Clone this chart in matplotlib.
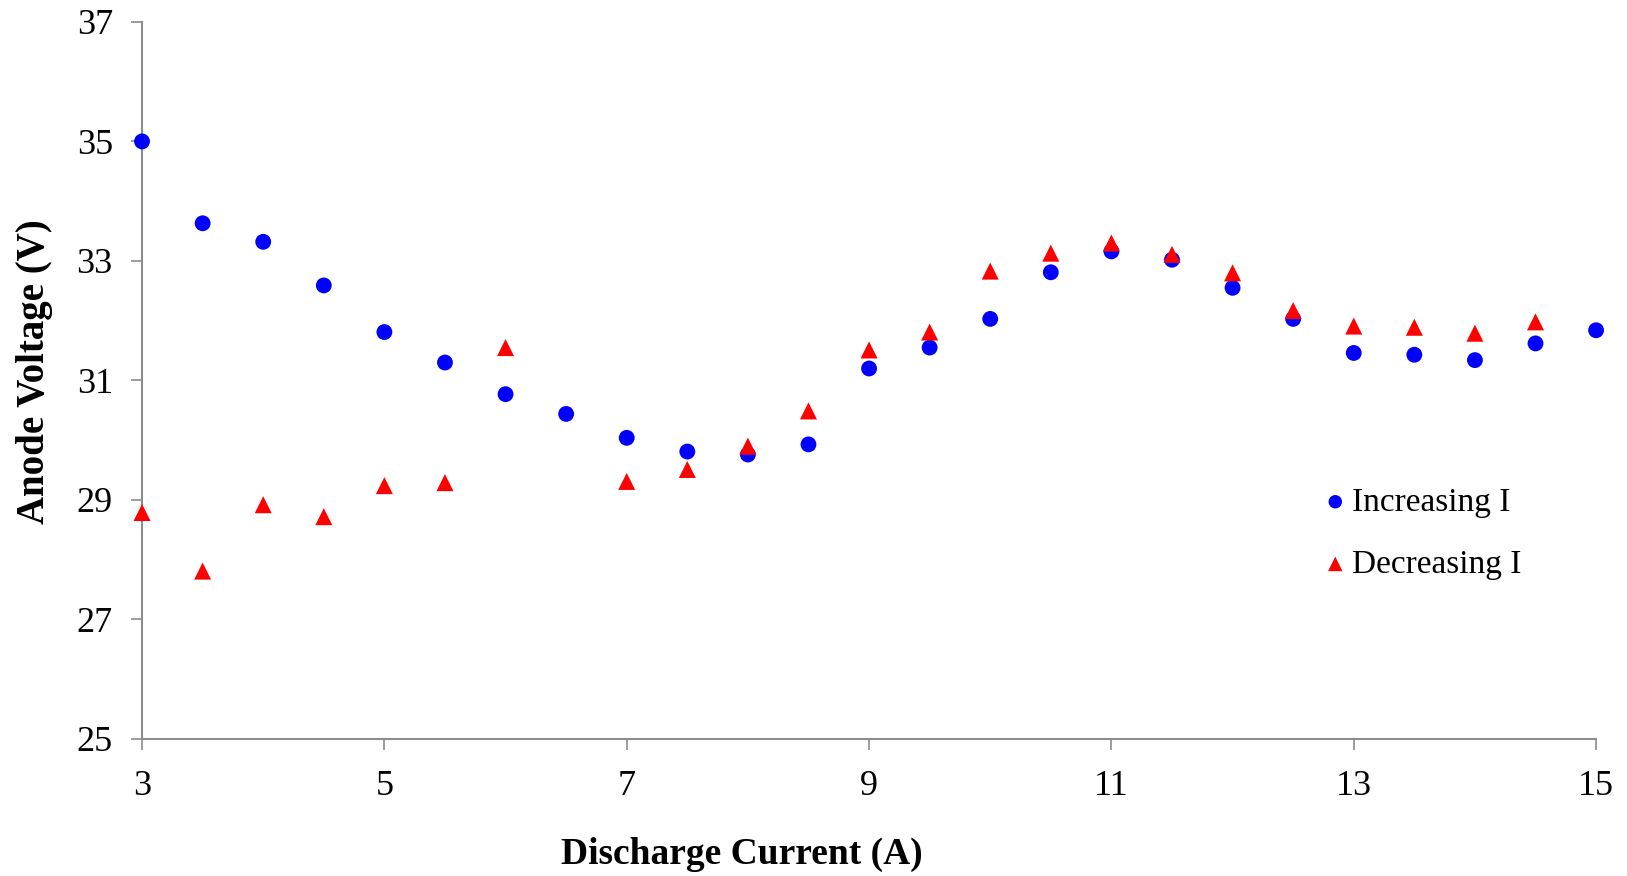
import numpy as np
import matplotlib.pyplot as plt

plt.rcParams['font.family'] = ['Liberation Serif', 'DejaVu Serif']

# increasing discharge current
inc_current = [3, 3.5, 4, 4.5, 5, 5.5, 6, 6.5, 7, 7.5, 8, 8.5, 9, 9.5, 10,
               10.5, 11, 11.5, 12, 12.5, 13, 13.5, 14, 14.5, 15]
inc_voltage = [35.0, 33.63, 33.32, 32.59, 31.81, 31.30, 30.77, 30.44, 30.04,
               29.81, 29.76, 29.93, 31.20, 31.55, 32.03, 32.81, 33.16, 33.02,
               32.55, 32.03, 31.46, 31.43, 31.34, 31.62, 31.84]

# decreasing discharge current
dec_current = [3, 3.5, 4, 4.5, 5, 5.5, 6, 7, 7.5, 8, 8.5, 9, 9.5, 10,
               10.5, 11, 11.5, 12, 12.5, 13, 13.5, 14, 14.5]
dec_voltage = [28.79, 27.81, 28.92, 28.72, 29.24, 29.29, 31.55, 29.31, 29.51,
               29.90, 30.49, 31.51, 31.81, 32.83, 33.13, 33.30, 33.11, 32.80,
               32.17, 31.91, 31.89, 31.79, 31.98]

x_ticks = [3, 5, 7, 9, 11, 13, 15]
y_ticks = [25, 27, 29, 31, 33, 35, 37]

fig = plt.figure(figsize=(16.27, 8.76), dpi=100)
ax = fig.add_axes([0.0873, 0.1564, 0.8937, 0.8186])

ax.scatter(inc_current, inc_voltage, s=130, marker='o', color='#0000ff',
           edgecolors='none', label='Increasing I', zorder=3, clip_on=False)
ax.scatter(dec_current, dec_voltage, s=150, marker='^', color='#ff0000',
           edgecolors='none', label='Decreasing I', zorder=4, clip_on=False)

ax.set_xlim(3, 15)
ax.set_ylim(25, 37)
ax.set_xticks(x_ticks)
ax.set_yticks(y_ticks)

for side in ['top', 'right']:
    ax.spines[side].set_visible(False)
for side in ['left', 'bottom']:
    ax.spines[side].set_color('#8c8c8c')
    ax.spines[side].set_linewidth(1.5)
ax.tick_params(axis='both', colors='#8c8c8c', length=8, width=1.2,
               labelsize=26, labelcolor='black')
ax.tick_params(axis='x', pad=14)
ax.tick_params(axis='y', pad=13)

ax.set_xlabel('Discharge Current (A)', fontsize=27, fontweight='bold')
ax.set_ylabel('Anode Voltage (V)', fontsize=28, fontweight='bold')
ax.xaxis.set_label_coords(0.4126, -0.136)
ax.yaxis.set_label_coords(-0.061, 0.512)

ax.legend(loc='upper left', bbox_to_anchor=(0.8, 0.37), frameon=False,
          fontsize=24, handletextpad=0.0, labelspacing=0.95,
          borderaxespad=0, markerscale=0.85, handlelength=1.0)

fig.savefig('out.png', dpi=100)
